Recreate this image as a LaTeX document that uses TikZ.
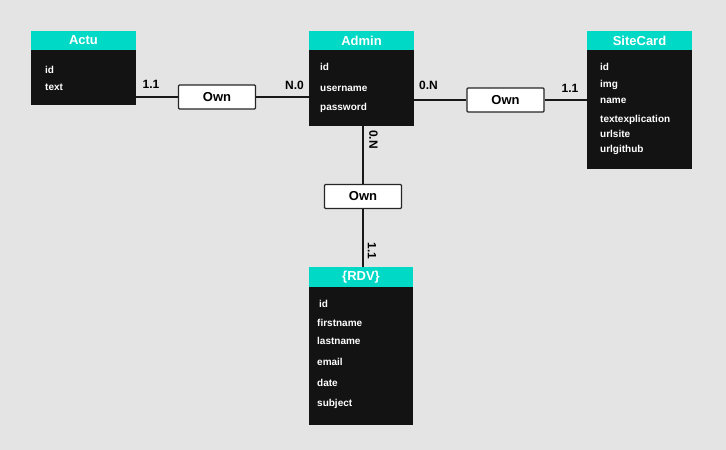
\documentclass[tikz,border=0pt]{standalone}
\usepackage{fontspec}
\setmainfont{Liberation Sans}
\definecolor{bgc}{HTML}{E4E4E4}
\definecolor{teal}{HTML}{00D9C5}
\definecolor{bodyc}{HTML}{131313}
\begin{document}
\begin{tikzpicture}[x=1pt,y=-1pt,
  hdr/.style={fill=teal,text=white,font=\bfseries\fontsize{13}{13}\selectfont,inner sep=0,outer sep=0,anchor=north west,minimum height=19pt},
  bodyb/.style={fill=bodyc,inner sep=0,outer sep=0,anchor=north west},
  fld/.style={text=white,font=\bfseries\fontsize{10}{10}\selectfont,inner sep=0,anchor=base west},
  rel/.style={draw=black!85,fill=white,line width=1.1pt,rounded corners=1pt,inner sep=0,minimum width=77pt,minimum height=24pt,font=\bfseries\fontsize{13}{13}\selectfont},
  card/.style={font=\bfseries\fontsize{12}{12}\selectfont,inner sep=0},
  conn/.style={line width=1.6pt,black!90}]
\fill[bgc] (0,0) rectangle (726,450);
\useasboundingbox (0,0) rectangle (726,450);
% Actu
\node[bodyb,minimum width=105pt,minimum height=55pt] (actuB) at (31,50) {};
\node[hdr,minimum width=105pt] (actuH) at (31,31) {Actu};
\node[fld] (actuF1) at (45,73) {id};
\node[fld] (actuF2) at (45,90) {text};
% Admin
\node[bodyb,minimum width=105pt,minimum height=76pt] (adminB) at (309,50) {};
\node[hdr,minimum width=105pt] (adminH) at (309,31) {Admin};
\node[fld] (adminF1) at (320,70) {id};
\node[fld] (adminF2) at (320,91) {username};
\node[fld] (adminF3) at (320,110) {password};
% SiteCard
\node[bodyb,minimum width=105pt,minimum height=119pt] (siteB) at (587,50) {};
\node[hdr,minimum width=105pt] (siteH) at (587,31) {SiteCard};
\node[fld] (siteF1) at (600,70) {id};
\node[fld] (siteF2) at (600,87.5) {img};
\node[fld] (siteF3) at (600,103.5) {name};
\node[fld] (siteF4) at (600,122) {textexplication};
\node[fld] (siteF5) at (600,137) {urlsite};
\node[fld] (siteF6) at (600,152) {urlgithub};
% RDV
\node[bodyb,minimum width=104pt,minimum height=138pt] (rdvB) at (309,287) {};
\node[hdr,minimum width=104pt,minimum height=20pt] (rdvH) at (309,267) {\{RDV\}};
\node[fld] (rdvF1) at (319,307) {id};
\node[fld] (rdvF2) at (317,326) {firstname};
\node[fld] (rdvF3) at (317,344) {lastname};
\node[fld] (rdvF4) at (317,365) {email};
\node[fld] (rdvF5) at (317,386) {date};
\node[fld] (rdvF6) at (317,406) {subject};
% relations
\node[rel] (own1) at (217,97) {Own};
\node[rel] (own2) at (505.5,100) {Own};
\node[rel] (own3) at (363,196.5) {Own};
% connectors
\draw[conn] (actuB.east |- own1) -- (own1.west);
\draw[conn] (own1.east) -- (adminB.west |- own1);
\draw[conn] (adminB.east |- own2) -- (own2.west);
\draw[conn] (own2.east) -- (siteB.west |- own2);
\draw[conn] (adminB.south -| own3) -- (own3.north);
\draw[conn] (own3.south) -- (rdvH.north -| own3);
% cardinalities
\node[card] (c1) at (151,84) {1.1};
\node[card] (c2) at (294.5,85) {N.0};
\node[card] (c3) at (428.5,85.5) {0.N};
\node[card] (c4) at (570,88) {1.1};
\node[card,rotate=-90] (c5) at (373.5,139.5) {0.N};
\node[card,rotate=-90] (c6) at (372,251) {1.1};
\end{tikzpicture}
\end{document}
